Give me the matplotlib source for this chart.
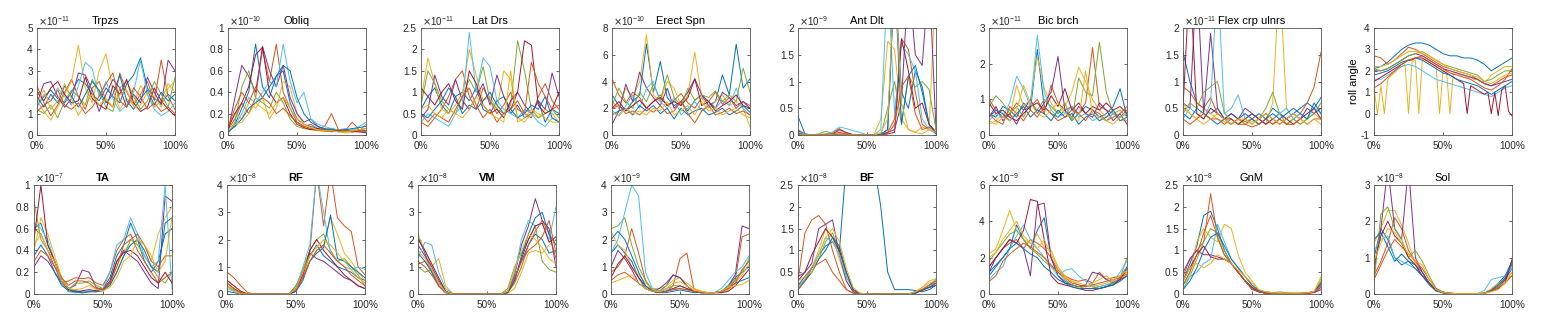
import matplotlib
matplotlib.use("Agg")
import matplotlib.pyplot as plt
import numpy as np

plt.rcParams['font.family'] = ['Liberation Sans', 'DejaVu Sans']

# MATLAB default line colours
colors = ['#0072BD', '#D95319', '#EDB120', '#7E2F8E', '#77AC30', '#4DBEEE', '#A2142F']

# ---- top row: upper limb EMG (values in units of the axis multiplier) ----
trpzs = [
    [1.4,1.8,2.1,1.7,1.5,2.0,2.6,2.4,1.9,1.6,2.2,1.8,1.5,2.4,2.8,3.6,2.2,1.7,1.5,1.9,1.6],
    [2.3,1.5,0.9,1.4,2.0,2.6,1.8,1.2,2.2,2.5,1.6,1.3,2.9,2.0,1.4,1.9,2.5,1.6,3.5,1.8,1.2],
    [1.6,1.1,0.7,1.3,1.9,2.5,4.2,2.2,1.5,3.0,3.8,2.1,1.2,1.7,1.4,2.3,1.9,1.3,1.6,2.4,2.0],
    [1.5,2.4,2.5,1.8,1.3,1.7,2.9,2.8,2.1,1.1,1.9,2.6,2.2,1.3,1.9,1.5,2.7,2.0,1.4,3.5,3.0],
    [1.2,1.0,1.4,0.8,1.6,2.1,1.8,1.4,2.6,2.0,1.3,1.1,2.2,2.5,1.8,1.2,1.6,2.5,1.9,1.3,2.7],
    [1.3,1.9,1.6,2.2,1.8,1.4,2.3,3.4,3.1,1.8,2.5,1.7,1.1,1.4,2.0,3.5,1.9,1.2,0.9,1.1,1.5],
    [2.0,1.6,2.2,2.5,1.9,1.5,1.6,2.7,1.7,1.4,1.2,2.3,1.9,2.6,1.5,1.1,1.3,2.2,1.6,1.2,0.9],
    [1.8,1.3,1.9,1.5,2.3,1.8,1.3,1.9,2.5,2.1,1.5,1.9,2.8,1.6,1.2,1.7,2.1,1.4,2.0,1.6,1.9],
    [1.1,1.4,1.6,2.1,1.4,1.2,1.5,1.0,1.3,1.8,2.4,2.9,1.6,1.3,2.2,1.8,1.2,1.5,1.1,1.3,1.0],
    [1.5,2.1,1.2,1.6,2.4,1.7,0.9,1.5,1.9,1.4,1.7,1.3,1.9,2.1,1.3,1.4,2.0,1.8,1.3,2.2,2.5],
]
obliq = [
    [0.02,0.10,0.25,0.40,0.85,0.45,0.35,0.55,0.60,0.30,0.15,0.10,0.08,0.06,0.05,0.04,0.05,0.03,0.04,0.05,0.06],
    [0.05,0.15,0.30,0.20,0.35,0.80,0.50,0.85,0.40,0.25,0.12,0.08,0.10,0.06,0.08,0.20,0.05,0.04,0.12,0.05,0.04],
    [0.08,0.20,0.15,0.30,0.25,0.35,0.15,0.25,0.50,0.45,0.20,0.10,0.06,0.04,0.03,0.04,0.03,0.02,0.03,0.04,0.10],
    [0.03,0.35,0.65,0.55,0.40,0.83,0.60,0.45,0.65,0.35,0.20,0.12,0.15,0.08,0.05,0.06,0.04,0.05,0.03,0.04,0.03],
    [0.02,0.12,0.45,0.60,0.35,0.30,0.25,0.40,0.30,0.15,0.08,0.06,0.05,0.04,0.06,0.03,0.04,0.03,0.05,0.03,0.04],
    [0.04,0.08,0.20,0.35,0.30,0.40,0.50,0.45,0.85,0.50,0.30,0.40,0.15,0.10,0.08,0.06,0.05,0.06,0.04,0.08,0.12],
    [0.06,0.20,0.30,0.45,0.75,0.82,0.40,0.30,0.35,0.20,0.10,0.07,0.05,0.06,0.04,0.05,0.03,0.04,0.03,0.03,0.02],
    [0.03,0.08,0.15,0.25,0.30,0.35,0.45,0.55,0.65,0.60,0.35,0.20,0.12,0.08,0.06,0.05,0.04,0.05,0.06,0.07,0.08],
    [0.07,0.25,0.40,0.30,0.45,0.35,0.30,0.20,0.25,0.18,0.12,0.08,0.06,0.05,0.04,0.03,0.05,0.04,0.03,0.05,0.04],
    [0.04,0.10,0.12,0.20,0.30,0.25,0.20,0.30,0.35,0.25,0.15,0.10,0.07,0.05,0.04,0.04,0.03,0.03,0.04,0.05,0.06],
]
lat_drs = [
    [0.6,0.9,1.1,0.7,0.5,0.9,1.0,0.8,1.1,0.6,0.5,0.8,0.9,0.5,0.7,0.4,0.5,0.8,0.3,0.6,0.5],
    [0.3,0.2,0.4,0.6,0.9,1.3,1.5,0.9,0.6,1.1,0.8,0.5,0.7,1.0,0.6,0.5,0.4,0.9,1.2,0.8,0.6],
    [0.8,1.8,1.2,0.6,0.5,0.7,1.0,2.0,1.4,0.8,0.9,0.6,1.5,1.3,0.4,0.3,0.5,0.4,0.6,0.5,0.3],
    [0.4,0.6,1.4,0.9,0.7,1.3,0.8,0.6,0.9,1.2,0.7,1.4,0.9,0.6,1.0,0.7,0.5,0.8,0.6,1.45,0.9],
    [0.7,1.5,1.2,0.8,0.6,0.5,0.9,1.3,1.0,1.6,0.8,0.6,0.5,0.7,2.2,1.5,0.6,0.4,0.5,0.6,0.4],
    [0.3,0.5,0.4,0.3,0.2,0.5,0.7,2.4,1.0,1.8,1.6,0.8,0.6,0.5,0.4,0.6,0.5,0.3,0.2,0.4,0.3],
    [1.1,0.9,0.7,1.0,1.2,0.8,0.6,1.5,1.2,0.7,0.5,0.6,0.4,0.8,1.0,2.2,2.1,0.7,0.5,0.6,1.0],
    [0.5,0.4,0.6,0.8,1.1,0.9,0.5,0.7,0.6,0.8,1.0,0.7,0.5,0.6,0.4,0.5,0.7,0.6,0.9,0.4,0.3],
    [0.5,0.3,0.5,0.4,0.3,0.6,0.9,1.1,0.7,0.4,0.6,0.3,0.5,0.6,0.8,0.5,1.7,1.2,0.9,0.6,0.7],
    [0.6,0.7,0.5,0.4,0.6,0.5,0.4,0.6,0.9,0.7,0.5,0.4,0.3,1.5,0.3,0.4,0.6,0.5,0.4,0.3,0.3],
]
erect_spn = [
    [3.0,2.2,1.8,2.5,3.0,6.8,3.2,5.5,2.8,2.2,2.5,1.8,2.6,3.0,2.2,2.5,4.5,3.0,6.8,3.5,4.2],
    [4.2,3.0,2.4,3.2,2.8,2.0,2.5,3.0,2.2,2.6,3.1,2.4,2.0,2.8,2.5,3.2,2.3,2.8,2.0,2.5,2.2],
    [2.5,2.0,3.5,2.8,4.0,7.5,3.0,2.5,4.0,3.5,2.2,3.0,6.2,2.8,2.0,2.5,3.0,2.2,2.5,2.0,0.6],
    [0.8,1.8,3.8,2.5,4.7,3.5,2.8,2.2,3.5,2.0,2.5,3.2,4.2,3.0,2.5,2.0,3.2,2.8,2.2,2.5,2.0],
    [2.2,3.5,2.5,2.0,3.2,2.5,3.8,2.6,4.5,2.8,2.2,3.5,2.6,3.0,2.8,3.3,2.5,3.0,2.5,5.0,3.2],
    [1.8,1.5,2.2,3.0,2.0,3.5,4.0,2.5,2.0,2.8,1.5,2.0,2.5,1.8,2.2,2.0,2.6,2.2,3.5,2.0,1.5],
    [2.0,2.5,1.8,2.2,2.6,2.0,2.5,2.8,2.2,2.5,2.2,2.8,4.2,2.2,2.5,1.8,2.2,2.5,3.0,2.2,2.0],
    [1.5,1.8,2.0,1.5,2.2,1.8,2.2,1.6,2.0,1.2,2.0,1.5,1.8,2.0,1.5,1.7,2.0,1.5,1.8,2.2,1.7],
    [2.0,2.2,1.6,1.8,1.5,2.0,1.7,2.2,1.6,1.8,2.5,1.6,0.9,1.8,2.2,1.5,1.7,2.0,1.6,1.8,1.5],
    [1.7,1.4,2.0,1.6,1.8,1.5,2.0,1.8,2.5,1.5,1.8,2.2,1.5,2.5,1.8,2.0,1.5,1.8,2.0,1.5,1.3],
]
ant_dlt = [
    [0.35,0.02,0,0,0,0,0,0,0,0,0,0,0.02,0.10,3.0,0.8,0.5,1.2,0.9,0.2,0.05],
    [0.1,0.02,0,0.01,0.02,0.05,0.12,0.03,0.01,0,0,0,0,0.05,0.3,1.8,1.6,0.8,0.2,0.1,0.05],
    [0.05,0.01,0,0,0,0.03,0.08,0.04,0.01,0,0,0,0.3,1.75,1.6,0.3,0.1,0.05,0.15,0.1,3.0],
    [0.08,0.01,0,0,0,0.02,0.1,0.05,0,0,0,0,0,0.05,0.1,0.6,3.0,1.5,1.3,3.0,0.1],
    [0.02,0,0,0.02,0.07,0.03,0,0.01,0,0,0,0,0,0.5,1.0,0.2,1.1,0.9,1.0,0.85,0.1],
    [0.05,0.02,0,0,0.01,0.05,0.15,0.12,0.08,0.05,0,0,0.1,3.0,0.4,1.7,1.5,1.2,0.3,0.1,0.02],
    [0.02,0,0,0,0,0,0.02,0.01,0,0,0,0,0,0.02,0.05,1.8,1.2,0.5,0.6,0.2,0.05],
    [0.03,0,0,0,0,0,0,0,0,0,0,0,0,0.1,3.0,0.2,1.1,1.3,0.8,0.2,0.02],
    [0.01,0,0,0,0,0.02,0.05,0.02,0,0,0,0,0,0.02,0.2,0.9,1.1,0.4,0.1,0.15,0.05],
    [0,0,0,0,0,0,0,0,0,0,0,0,0.05,0.3,3.0,0.6,0.1,0.05,0.02,0.1,0.05],
]
bic_brch = [
    [0.6,0.5,0.8,0.7,0.5,0.9,0.7,2.4,0.8,0.6,0.5,0.7,0.4,0.6,0.8,0.7,0.5,0.6,0.8,1.3,0.5],
    [1.0,0.7,0.5,0.6,0.9,0.7,0.8,1.0,0.6,1.4,0.9,0.7,0.8,0.6,0.9,2.45,0.8,0.7,0.6,0.5,0.7],
    [0.3,0.4,0.6,0.5,1.4,0.8,1.0,2.2,1.3,0.9,0.6,0.8,1.2,1.9,1.5,1.0,0.7,0.5,0.6,0.4,0.4],
    [0.5,0.8,0.4,0.6,0.3,0.7,1.0,0.6,0.9,1.2,2.2,0.7,0.5,0.8,0.6,0.5,0.9,0.7,0.4,0.6,0.3],
    [0.8,1.1,0.9,0.6,0.8,0.5,0.9,0.7,1.0,0.8,0.6,0.9,0.4,1.6,1.2,1.1,2.6,1.2,0.6,0.7,0.5],
    [0.4,0.6,0.5,0.9,1.65,1.3,0.8,2.8,1.2,0.7,0.5,0.6,0.8,0.5,0.6,0.4,0.5,0.4,0.6,0.5,0.6],
    [0.9,0.6,0.7,0.5,0.4,0.6,0.8,0.9,0.7,1.1,0.8,1.3,0.7,0.9,0.6,0.8,0.7,0.9,0.7,0.8,0.6],
    [0.5,0.7,0.6,0.4,0.6,0.8,0.5,0.7,0.6,0.4,0.7,0.5,0.6,0.3,0.5,0.6,0.4,0.5,0.7,0.4,0.5],
    [0.6,0.4,0.3,0.8,0.6,0.4,0.7,0.5,0.8,0.6,0.4,0.5,0.7,0.6,0.4,0.7,0.6,0.4,0.5,0.6,0.8],
    [0.4,0.3,0.5,0.4,0.7,1.4,0.9,0.6,0.5,0.7,0.9,0.6,0.5,0.4,1.8,0.6,0.5,0.4,0.3,0.5,0.4],
]
flex_crp = [
    [1.55,1.0,0.6,0.5,0.4,0.5,0.3,0.4,0.3,0.2,0.3,0.4,0.3,0.5,0.4,0.3,0.4,0.5,0.6,0.5,0.7],
    [0.9,0.8,0.6,0.5,0.7,0.4,0.3,0.2,0.3,0.25,0.3,0.2,0.3,0.2,0.3,0.2,0.3,0.4,0.6,0.9,1.55],
    [0.5,0.4,0.3,0.5,0.4,0.3,0.25,0.2,0.3,0.2,0.25,0.3,0.2,0.6,3.0,0.5,0.3,0.2,0.3,0.4,0.3],
    [0.6,0.5,3.0,0.4,1.9,0.5,0.3,0.4,0.3,0.5,0.4,0.3,0.4,0.3,0.4,0.3,0.4,0.3,0.5,0.4,0.5],
    [0.4,0.6,0.5,0.8,0.9,1.0,0.4,0.3,0.2,0.3,0.2,0.3,0.5,0.8,0.4,0.2,0.3,0.2,0.3,0.4,0.6],
    [0.3,0.5,0.4,0.3,0.6,3.0,0.4,0.5,0.75,0.3,0.4,0.3,0.2,0.3,0.4,0.5,0.3,0.4,0.3,0.5,0.4],
    [0.5,3.0,0.4,0.3,0.5,0.4,0.3,0.3,0.2,0.3,0.4,0.3,0.2,0.3,0.2,0.3,0.2,0.3,0.4,0.5,0.3],
    [0.4,0.3,0.5,0.4,0.3,0.2,0.3,0.2,0.3,0.4,0.3,0.2,0.3,0.4,0.3,0.4,0.5,0.4,0.3,0.6,0.4],
    [0.3,0.2,0.3,0.4,0.3,0.3,0.2,0.3,0.2,0.2,0.15,0.2,0.3,0.2,0.3,0.2,0.2,0.3,0.2,0.3,0.3],
    [0.6,0.4,0.3,0.2,0.3,0.4,0.3,0.2,0.3,0.3,0.2,0.3,0.4,0.3,0.2,0.3,0.4,0.3,0.2,0.3,0.2],
]
roll_angle = [
    [2.1,2.2,2.4,2.7,3.0,3.2,3.3,3.3,3.2,3.0,2.8,2.7,2.7,2.6,2.6,2.5,2.3,2.0,2.2,2.4,2.6],
    [2.7,2.6,2.3,2.5,2.8,3.1,3.0,2.8,2.6,2.4,2.2,2.1,2.0,1.9,1.8,1.6,1.4,1.3,1.5,1.7,1.8],
    [1.2,0.0,1.3,0.0,1.6,1.8,1.9,2.1,2.2,2.3,0.0,2.4,2.5,0.0,2.5,2.5,2.4,2.3,2.2,0.0,2.0,
     2.0,0.0,1.9,1.9,1.8,1.8,1.7,1.7,1.6,1.6,1.5,1.5,1.6,1.8,1.9,2.0,2.1,2.2,2.2,2.2],
    [2.0,2.0,2.1,2.3,2.5,2.7,2.8,2.7,2.5,2.3,2.1,2.0,1.9,1.8,1.7,1.6,1.4,1.3,1.4,1.5,1.6],
    [2.1,2.0,2.1,2.3,2.5,2.7,2.8,2.9,2.7,2.5,2.3,2.2,2.1,2.0,1.9,1.8,1.5,1.6,1.8,2.0,2.0],
    [1.6,1.6,1.8,2.0,2.2,2.3,2.2,2.0,1.8,1.6,1.5,1.4,1.3,1.2,1.1,1.0,0.9,0.8,1.0,1.2,1.3],
    [1.5,1.6,1.7,1.8,1.9,2.0,2.1,2.2,2.3,2.4,2.5,2.5,2.6,2.6,2.6,2.5,2.4,2.3,2.2,2.1,2.0,
     1.9,1.8,1.7,1.6,1.5,1.4,0.0,1.3,1.2,1.1,1.0,0.9,1.0,0.0,1.0,-0.1,1.1,1.3,0.1,-0.1],
    [1.8,1.9,2.0,2.2,2.4,2.5,2.6,2.5,2.3,2.1,1.9,1.8,1.6,1.5,1.4,1.3,1.1,0.9,1.1,1.3,1.5],
    [1.2,1.4,1.7,2.0,2.3,2.5,2.6,2.7,2.5,2.3,2.1,1.9,1.8,1.7,1.6,1.4,1.2,1.1,1.3,1.6,2.1],
    [2.2,2.2,2.3,2.5,2.7,2.9,2.9,2.8,2.7,2.5,2.3,2.1,2.0,1.9,1.8,1.7,1.5,1.4,1.6,1.8,1.9],
]

# ---- bottom row: lower limb EMG ----
ta = [
    [0.6,0.65,0.45,0.3,0.15,0.05,0.03,0.02,0.02,0.03,0.05,0.15,0.35,0.45,0.65,0.5,0.3,0.2,0.3,0.55,0.6],
    [0.6,0.55,0.4,0.25,0.1,0.12,0.15,0.14,0.15,0.1,0.08,0.2,0.4,0.5,0.55,0.4,0.3,0.2,0.1,0.15,0.2],
    [0.4,0.7,0.55,0.35,0.15,0.05,0.02,0.01,0.02,0.03,0.05,0.1,0.25,0.4,0.45,0.5,0.45,0.3,0.55,0.7,0.8],
    [0.25,0.35,0.3,0.2,0.1,0.05,0.08,0.22,0.2,0.06,0.04,0.1,0.3,0.4,0.35,0.3,0.2,0.1,0.05,0.9,0.85],
    [0.85,0.5,0.4,0.3,0.1,0.04,0.1,0.1,0.12,0.08,0.05,0.08,0.2,0.35,0.5,0.45,0.35,0.25,0.15,0.1,0.2],
    [0.65,0.6,0.5,0.3,0.1,0.02,0.01,0.02,0.03,0.02,0.05,0.2,0.45,0.5,0.7,0.55,0.35,0.25,0.3,1.0,0.05],
    [0.5,1.0,0.45,0.3,0.12,0.04,0.02,0.03,0.04,0.03,0.04,0.12,0.3,0.38,0.4,0.35,0.25,0.15,0.1,0.2,0.1],
    [0.35,0.45,0.35,0.2,0.08,0.03,0.02,0.01,0.02,0.02,0.03,0.08,0.2,0.35,0.45,0.5,0.4,0.25,0.2,0.65,0.7],
    [0.3,0.4,0.35,0.25,0.15,0.08,0.12,0.12,0.1,0.05,0.04,0.1,0.25,0.45,0.5,0.55,0.45,0.3,0.25,0.35,0.35],
    [0.45,0.55,0.4,0.3,0.12,0.05,0.04,0.05,0.08,0.04,0.03,0.06,0.15,0.3,0.35,0.5,0.45,0.35,0.2,0.3,0.7],
]
rf = [
    [0.3,0.1,0,0,0,0,0,0,0,0,0.3,0.8,1.4,1.8,1.4,1.2,1.0,0.9,0.8,0.6,0.5],
    [0.8,0.6,0.3,0.05,0,0,0,0,0,0,0.1,0.6,1.5,4.5,2.5,4.5,2.8,2.5,2.3,1.0,0.7],
    [0.5,0.3,0.1,0,0,0,0,0,0,0,0.2,0.7,1.2,1.6,1.8,2.8,2.2,1.5,1.2,0.8,0.5],
    [0.4,0.2,0.05,0,0,0,0,0,0.02,0,0.1,0.8,1.5,1.3,1.2,1.0,0.8,0.6,0.5,0.3,0.2],
    [0.3,0.15,0.05,0,0,0,0,0,0,0,0.3,0.9,1.6,2.0,2.2,1.6,1.2,1.3,1.0,0.7,0.3],
    [0.2,0.1,0,0,0,0,0,0,0,0,0.2,1.0,1.8,4.5,3.0,1.5,1.2,1.0,0.9,1.0,0.9],
    [0.5,0.3,0.1,0,0,0,0,0,0,0,0.2,0.7,1.6,2.0,1.6,1.3,1.0,0.7,0.5,0.3,0.2],
    [0.1,0.05,0,0,0,0,0,0,0,0,0.1,0.5,1.2,1.5,1.7,2.9,1.3,1.2,1.0,0.8,0.6],
    [0.4,0.2,0.05,0,0,0,0,0,0,0,0.15,0.6,1.2,1.6,1.8,1.5,1.2,1.0,0.7,0.5,0.3],
    [0.3,0.1,0,0,0,0,0,0,0,0,0.2,0.8,1.4,1.7,2.0,1.8,1.5,1.2,0.9,0.6,0.4],
]
vm = [
    [2.1,1.5,0.8,0.3,0.05,0,0,0,0,0,0,0,0,0.1,0.6,1.2,1.8,2.2,2.0,1.5,1.6],
    [1.1,1.2,0.9,0.4,0.1,0,0,0,0,0,0,0,0,0.05,0.4,1.0,1.8,2.3,2.7,2.2,1.3],
    [2.2,1.6,1.0,1.3,0.3,0.02,0,0,0,0,0,0,0,0.02,0.2,0.8,1.5,1.6,1.5,1.8,2.0],
    [1.8,1.4,1.0,0.5,0.1,0,0,0,0,0,0,0,0,0.1,0.7,1.8,2.5,3.5,2.7,2.4,1.0],
    [1.0,0.8,0.9,0.4,0.1,0,0,0,0,0,0,0,0,0.2,1.0,1.5,2.0,2.5,1.2,0.9,0.8],
    [1.3,1.9,1.8,0.8,0.2,0.02,0,0,0,0,0,0,0,0.1,0.8,2.0,2.7,2.5,2.6,2.0,3.2],
    [2.0,1.6,1.1,0.6,0.1,0,0,0,0,0,0,0,0,0.05,0.5,1.3,2.0,2.5,2.6,1.9,2.1],
    [1.5,1.2,0.8,0.3,0.05,0,0,0,0,0,0,0,0,0.05,0.5,1.4,2.2,2.8,3.0,2.2,1.8],
    [1.2,1.0,0.7,0.3,0.05,0,0,0,0,0,0,0,0,0.1,0.6,1.2,1.6,1.8,2.1,2.7,1.5],
    [1.6,1.3,0.9,0.4,0.08,0,0,0,0,0,0,0,0,0.1,0.9,1.6,2.2,2.0,1.7,1.3,1.1],
]
glm = [
    [1.5,1.8,1.5,1.2,0.6,0.2,0.1,0.1,0.3,0.7,0.6,0.3,0.1,0.05,0.05,0.05,0.1,0.3,0.6,0.8,1.0],
    [0.8,1.0,1.4,2.4,1.5,0.5,0.1,0.05,0.1,0.3,1.3,1.5,0.2,0.1,0.05,0.05,0.1,0.2,0.5,2.1,2.2],
    [2.3,1.8,1.6,1.0,0.7,0.4,0.2,0.2,0.3,0.5,0.6,0.4,0.2,0.1,0.05,0.05,0.05,0.15,0.4,0.7,1.1],
    [1.0,1.6,1.3,0.9,0.4,0.2,0.1,0.2,0.4,0.7,0.6,0.3,0.1,0.05,0.05,0.05,0.05,0.3,0.7,2.5,2.4],
    [2.4,2.5,2.8,1.8,1.0,0.5,0.15,0.1,0.2,0.3,0.3,0.2,0.1,0.05,0.05,0.05,0.1,0.3,0.5,0.8,1.3],
    [1.5,2.0,3.0,4.0,3.6,0.8,0.2,0.1,0.15,0.2,0.2,0.15,0.1,0.05,0.05,0.05,0.2,0.5,0.8,1.0,1.4],
    [0.6,1.1,1.4,1.0,0.6,0.3,0.1,0.05,0.1,0.2,0.3,0.2,0.1,0.05,0.05,0.05,0.05,0.1,0.3,0.6,0.9],
    [2.0,2.3,2.0,1.4,0.8,0.3,0.1,0.05,0.05,0.1,0.15,0.1,0.05,0.05,0.05,0.05,0.1,0.2,0.4,0.5,0.6],
    [0.5,0.7,0.8,0.6,0.4,0.2,0.1,0.05,0.1,0.15,0.2,0.15,0.1,0.05,0.05,0.05,0.1,0.2,0.4,0.9,1.2],
    [0.4,0.5,0.6,0.7,0.4,0.2,0.1,0.1,0.2,0.4,0.45,0.3,0.15,0.1,0.05,0.05,0.1,0.25,0.3,0.35,0.5],
]
bf = [
    [0.2,0.4,0.6,0.9,1.1,1.2,1.0,3.0,3.0,3.0,3.0,3.0,2.0,0.5,0.1,0.1,0.1,0.08,0.05,0.1,0.2],
    [0.3,1.4,1.7,1.8,1.6,1.0,0.5,0.1,0.02,0,0,0,0,0,0,0,0,0.02,0.1,0.2,0.3],
    [0.1,0.3,0.6,1.0,1.5,1.3,0.8,0.3,0.05,0,0,0,0,0,0,0,0,0.05,0.15,0.25,0.3],
    [0.4,0.5,0.7,1.5,1.6,1.7,0.9,0.3,0.05,0,0,0,0,0,0,0,0,0.02,0.1,0.15,0.2],
    [0.2,0.3,0.5,0.8,1.2,1.4,1.0,0.4,0.1,0,0,0,0,0,0,0,0,0.05,0.1,0.2,0.25],
    [0.15,0.35,0.6,0.9,1.3,1.2,0.9,0.4,0.1,0.02,0,0,0,0,0,0,0,0.03,0.1,0.2,0.35],
    [0.3,0.5,0.9,1.2,1.5,1.3,1.0,0.5,0.1,0,0,0,0,0,0,0,0,0.02,0.08,0.15,0.25],
    [0.1,0.3,0.5,0.8,1.0,1.3,1.1,0.5,0.1,0,0,0,0,0,0,0,0,0.02,0.1,0.15,0.2],
    [0.1,0.3,0.6,0.7,0.8,0.5,0.3,0.1,0.02,0,0,0,0,0,0,0,0,0.05,0.1,0.2,0.3],
    [0.3,0.4,0.5,0.9,1.3,1.5,1.2,0.6,0.15,0.02,0,0,0,0,0,0,0,0.05,0.15,0.3,0.35],
]
st = [
    [1.0,1.5,2.0,2.5,3.8,3.0,2.5,3.5,4.2,2.0,1.0,0.7,0.5,0.4,0.5,0.4,0.3,0.4,0.6,0.9,1.5],
    [1.5,2.0,2.5,2.8,3.0,2.5,3.0,2.8,2.5,2.0,1.3,1.0,0.8,0.7,0.8,0.6,1.2,0.8,0.9,1.0,1.2],
    [2.2,2.5,3.5,4.6,3.5,3.0,2.8,3.3,2.6,2.4,1.5,1.0,0.7,0.5,0.4,0.6,0.8,1.0,0.7,0.8,1.2],
    [1.2,2.0,2.5,3.0,2.8,2.5,1.0,4.9,5.0,2.0,1.0,0.6,0.5,0.4,0.5,1.2,1.1,0.8,0.6,0.8,1.0],
    [1.8,2.3,2.8,3.3,3.5,3.0,2.5,2.2,1.8,1.5,1.2,0.8,0.5,0.4,0.3,0.3,0.4,0.5,0.6,0.9,2.0],
    [0.8,1.2,1.5,2.5,3.2,3.8,3.0,2.5,2.0,1.5,1.0,1.3,1.4,1.0,0.7,0.5,0.4,0.5,0.7,1.2,1.8],
    [1.5,2.0,2.5,3.0,2.8,3.5,5.2,5.1,3.0,1.0,0.6,0.5,0.4,0.3,0.2,0.2,0.3,0.4,0.5,0.8,1.4],
    [1.2,1.6,2.0,2.5,2.8,2.5,2.2,2.0,1.5,1.2,0.8,0.6,0.4,0.3,0.3,0.3,0.3,0.4,0.5,0.7,1.0],
    [0.7,1.0,1.8,2.2,2.5,2.8,2.6,2.3,2.0,1.6,1.2,0.9,0.6,0.5,0.4,0.5,0.6,0.7,0.8,0.9,1.1],
    [2.0,2.3,3.0,3.5,4.0,3.2,2.8,2.5,3.0,2.2,1.4,0.9,0.7,0.6,0.5,0.4,0.5,0.6,0.8,1.0,1.3],
]
gnm = [
    [0.3,0.7,1.1,1.8,1.9,1.5,1.0,0.7,0.5,0.3,0.15,0.05,0.02,0.01,0.01,0.01,0.01,0.01,0.02,0.05,0.2],
    [0.4,0.8,1.0,1.2,2.3,1.3,0.9,0.7,0.5,0.3,0.15,0.05,0.02,0.01,0.01,0.01,0.01,0.02,0.03,0.05,0.25],
    [0.2,0.5,1.2,1.5,1.3,1.2,1.6,1.5,0.9,0.5,0.3,0.1,0.05,0.03,0.02,0.02,0.02,0.02,0.03,0.05,0.4],
    [0.5,0.8,1.0,0.9,0.9,0.85,0.8,0.7,0.5,0.3,0.1,0.05,0.02,0.01,0.01,0.01,0.01,0.01,0.02,0.04,0.15],
    [0.1,0.4,0.8,1.2,1.5,1.4,1.0,0.7,0.5,0.3,0.15,0.08,0.05,0.03,0.05,0.03,0.02,0.02,0.03,0.05,0.3],
    [0.2,0.4,0.5,0.7,0.8,1.6,1.2,0.8,0.6,0.4,0.2,0.08,0.04,0.02,0.02,0.01,0.01,0.01,0.02,0.05,0.2],
    [0.3,0.6,0.9,1.1,0.85,0.8,0.8,0.7,0.5,0.3,0.15,0.05,0.02,0.01,0.01,0.01,0.01,0.01,0.02,0.03,0.1],
    [0.1,0.3,0.6,1.0,1.3,1.4,1.1,0.8,0.6,0.4,0.2,0.08,0.03,0.02,0.01,0.01,0.01,0.01,0.02,0.05,0.25],
    [0.2,0.5,0.9,1.4,1.8,1.3,0.9,0.7,0.5,0.3,0.12,0.05,0.02,0.01,0.01,0.01,0.01,0.01,0.02,0.04,0.2],
    [0.3,0.6,0.7,0.6,0.7,0.9,0.8,0.7,0.55,0.4,0.25,0.1,0.05,0.03,0.02,0.02,0.02,0.02,0.03,0.06,0.35],
]
sol = [
    [1.0,1.8,1.5,1.0,0.8,0.9,0.8,0.6,0.3,0.1,0.05,0.02,0.01,0.01,0.01,0.01,0.02,0.1,0.3,0.5,0.9],
    [0.5,0.9,1.4,2.1,1.8,1.2,0.9,0.6,0.3,0.12,0.05,0.02,0.01,0.01,0.01,0.01,0.02,0.1,0.2,0.4,0.8],
    [1.4,1.8,2.3,2.3,1.9,1.4,0.8,0.5,0.3,0.1,0.05,0.02,0.01,0.01,0.01,0.01,0.02,0.15,0.3,0.4,0.6],
    [0.6,1.8,3.5,1.8,1.5,3.5,1.0,0.6,0.3,0.1,0.05,0.02,0.01,0.01,0.01,0.01,0.02,0.1,0.2,0.4,0.7],
    [0.3,2.2,2.4,1.8,1.5,1.0,1.2,0.9,0.5,0.15,0.05,0.02,0.01,0.01,0.01,0.01,0.02,0.1,0.2,0.35,0.5],
    [1.2,1.5,1.6,1.0,0.9,0.8,0.7,0.5,0.3,0.1,0.05,0.02,0.01,0.01,0.01,0.01,0.1,0.4,0.45,0.5,0.7],
    [0.8,1.6,2.0,1.6,1.4,1.0,0.8,0.5,0.3,0.1,0.03,0.01,0.01,0.01,0.01,0.01,0.02,0.08,0.15,0.3,0.95],
    [1.5,1.7,1.3,0.9,1.1,0.9,0.7,0.5,0.25,0.08,0.03,0.01,0.01,0.01,0.01,0.01,0.02,0.1,0.25,0.45,0.85],
    [0.4,0.8,1.2,1.5,1.3,1.1,0.9,0.7,0.4,0.15,0.05,0.02,0.01,0.01,0.01,0.01,0.02,0.08,0.18,0.3,0.5],
    [0.9,1.4,1.8,1.7,1.4,1.1,0.9,0.8,0.4,0.12,0.04,0.02,0.01,0.01,0.01,0.01,0.02,0.06,0.12,0.3,0.6],
]

top_titles = ['Trpzs', 'Obliq', 'Lat Drs', 'Erect Spn', 'Ant Dlt', 'Bic brch', 'Flex crp ulnrs', '']
top_data = [trpzs, obliq, lat_drs, erect_spn, ant_dlt, bic_brch, flex_crp, roll_angle]
top_exp = [-11, -10, -11, -10, -9, -11, -11, None]
top_ylim = [(0, 5), (0, 1), (0, 2.5), (0, 8), (0, 2), (0, 3), (0, 2), (-1, 4)]
top_ystep = [1, 0.2, 0.5, 2, 0.5, 1, 0.5, 1]

bot_titles = ['TA', 'RF', 'VM', 'GlM', 'BF', 'ST', 'GnM', 'Sol']
bot_data = [ta, rf, vm, glm, bf, st, gnm, sol]
bot_exp = [-7, -8, -8, -9, -8, -9, -8, -8]
bot_ylim = [(0, 1), (0, 4), (0, 4), (0, 4), (0, 2.5), (0, 6), (0, 2.5), (0, 3)]
bot_ystep = [0.2, 1, 1, 1, 0.5, 2, 0.5, 1]
bot_bold = [True, True, True, True, True, True, False, False]

W, H = 1541, 325
fig = plt.figure(figsize=(W / 100, H / 100), dpi=100)

top_left = [37, 228, 421, 612, 798, 989, 1183, 1374]
bot_left = [34, 227, 418, 611, 798, 989, 1183, 1374]
aw = 138


def draw(ax, lines, title, exp, ylim, ystep, bold=False):
    for i, ln in enumerate(lines):
        y = np.array(ln)
        x = np.linspace(0, 100, len(y))
        ax.plot(x, y, color=colors[i % 7], lw=0.7)
    ax.set_xlim(0, 100)
    ax.set_ylim(*ylim)
    ax.set_xticks([0, 50, 100])
    ax.set_xticklabels(['0%', '50%', '100%'])
    ax.set_yticks(np.arange(ylim[0], ylim[1] + ystep / 2, ystep))
    ax.yaxis.set_major_formatter(plt.FuncFormatter(lambda v, p: '%g' % round(v, 3)))
    ax.tick_params(direction='in', length=2, width=0.5, labelsize=7.2,
                   top=False, right=True, colors='#262626')
    ax.tick_params(axis='x', pad=4)
    ax.tick_params(axis='y', pad=3)
    for s in ax.spines.values():
        s.set_color('#555555')
        s.set_linewidth(0.6)
    if title:
        ax.set_title(title, fontsize=8, pad=3, fontweight='bold' if bold else 'normal')
    if exp is not None:
        ax.text(0.01, 1.0, r'$\times\mathregular{10^{%d}}$' % exp, transform=ax.transAxes,
                fontsize=7, ha='left', va='bottom', color='#262626')


for k in range(8):
    ax = fig.add_axes([top_left[k] / W, (H - 135) / H, aw / W, 107 / H])
    draw(ax, top_data[k], top_titles[k], top_exp[k], top_ylim[k], top_ystep[k])
    if k == 7:
        ax.set_ylabel('roll angle', fontsize=8, labelpad=1)

for k in range(8):
    ax = fig.add_axes([bot_left[k] / W, (H - 294) / H, aw / W, 109 / H])
    draw(ax, bot_data[k], bot_titles[k], bot_exp[k], bot_ylim[k], bot_ystep[k], bot_bold[k])

fig.savefig('out.png', dpi=100)
